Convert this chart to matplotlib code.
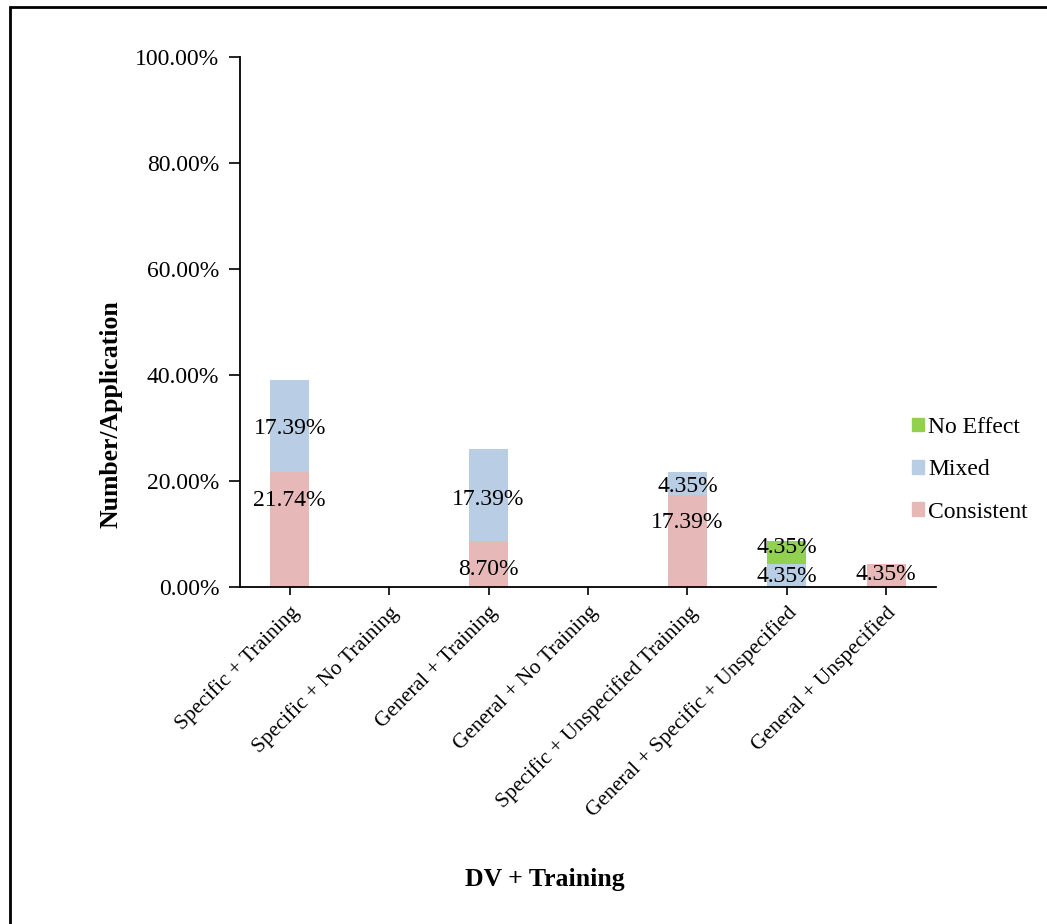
import matplotlib.pyplot as plt
from matplotlib.patches import Patch, Rectangle
from matplotlib.ticker import FuncFormatter

plt.rcParams['font.family'] = ['Liberation Serif', 'DejaVu Serif']

categories = ["Specific + Training", "Specific + No Training", "General + Training",
              "General + No Training", "Specific + Unspecified Training",
              "General + Specific + Unspecified", "General + Unspecified"]
consistent = [21.74, 0, 8.70, 0, 17.39, 0, 4.35]
mixed = [17.39, 0, 17.39, 0, 4.35, 4.35, 0]
no_effect = [0, 0, 0, 0, 0, 4.35, 0]

# where each value label sits (in % units), None = no label
consistent_label_y = [16.4, None, 3.3, None, 12.3, None, 2.4]
mixed_label_y = [29.9, None, 16.6, None, 19.1, 2.0, None]
no_effect_label_y = [None, None, None, None, None, 7.6, None]

c_cons = "#E6B9B8"
c_mixed = "#B9CDE5"
c_none = "#92D050"

fig = plt.figure(figsize=(10.47, 9.24), dpi=100)
ax = fig.add_axes([0.2292, 0.3642, 0.6648, 0.5741])

x = range(len(categories))
w = 0.39
bottom2 = [c + m for c, m in zip(consistent, mixed)]
ax.bar(x, consistent, w, color=c_cons, label="Consistent")
ax.bar(x, mixed, w, bottom=consistent, color=c_mixed, label="Mixed")
ax.bar(x, no_effect, w, bottom=bottom2, color=c_none, label="No Effect")

fs = 17
for vals, ys in [(consistent, consistent_label_y), (mixed, mixed_label_y),
                 (no_effect, no_effect_label_y)]:
    for i, (v, yy) in enumerate(zip(vals, ys)):
        if yy is not None and v > 0:
            ax.text(i, yy, f"{v:.2f}%", ha="center", va="center", fontsize=fs)

ax.set_xlim(-0.5, len(categories) - 0.5)
ax.set_ylim(0, 100)
ax.set_yticks([0, 20, 40, 60, 80, 100])
ax.yaxis.set_major_formatter(FuncFormatter(lambda v, p: f"{v:.2f}%"))
ax.set_xticks(list(x))
ax.set_xticklabels(categories, rotation=45, ha="right", rotation_mode="anchor",
                   fontsize=15.5)
ax.tick_params(axis="y", labelsize=fs, length=8, width=1.2, pad=7)
ax.tick_params(axis="x", length=6, width=1.2, pad=5)
for s in ["top", "right"]:
    ax.spines[s].set_visible(False)
for s in ["left", "bottom"]:
    ax.spines[s].set_linewidth(1.3)

fig.text(0.5205, 0.0487, "DV + Training", ha="center", va="center",
         fontsize=18.5, fontweight="bold")
fig.text(0.106, 0.552, "Number/Application", ha="center", va="center",
         rotation=90, fontsize=18.5, fontweight="bold")

handles = [Patch(color=c_none, label="No Effect"),
           Patch(color=c_mixed, label="Mixed"),
           Patch(color=c_cons, label="Consistent")]
fig.legend(handles=handles, loc="center left", bbox_to_anchor=(0.8596, 0.4915),
           frameon=False, fontsize=fs, handlelength=0.5, handleheight=0.5,
           handletextpad=0.2, labelspacing=0.9, borderpad=0)

# outer frame
fig.patches.append(Rectangle((10 / 1047, -0.1), 1.2, 1.1 - 7 / 924,
                             transform=fig.transFigure, fill=False,
                             edgecolor="black", linewidth=2))

fig.savefig("out.png", dpi=100)
